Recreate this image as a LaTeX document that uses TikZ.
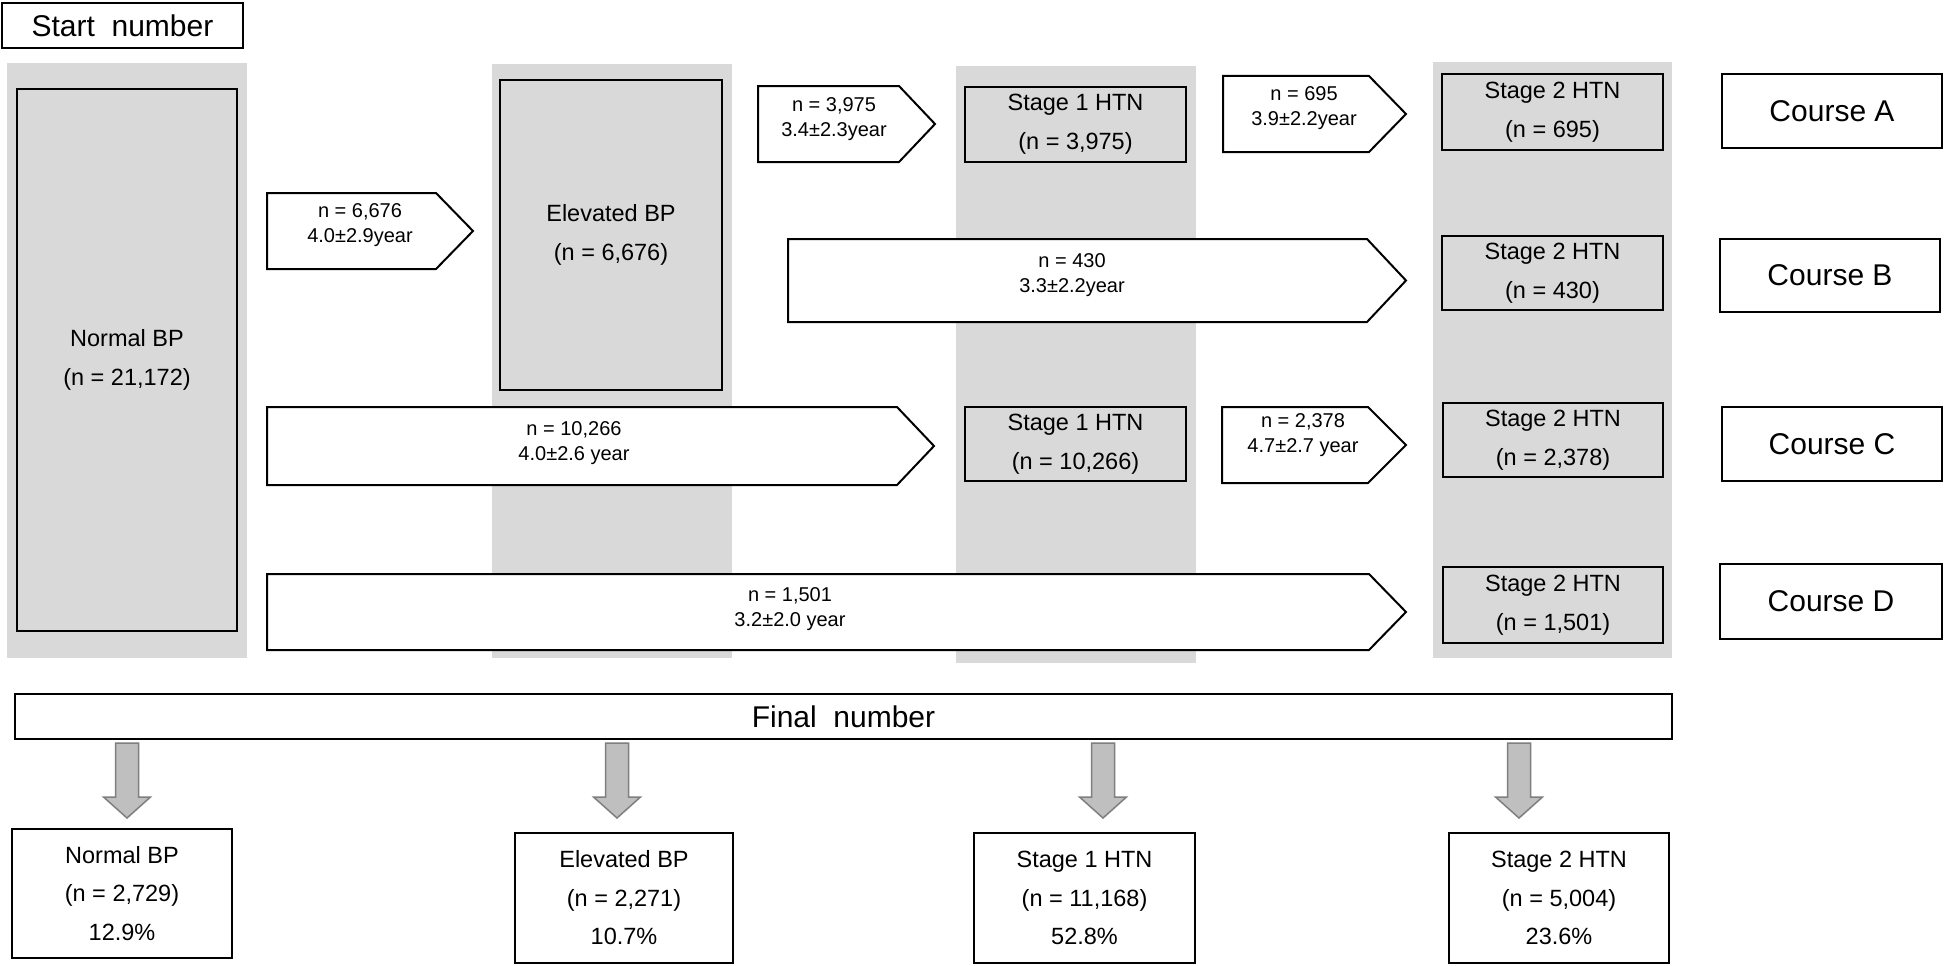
\documentclass[tikz,border=0pt]{standalone}
\usepackage{fontspec}
\setmainfont{Liberation Sans}
\definecolor{colgrey}{HTML}{D9D9D9}
\definecolor{arrowfill}{HTML}{BFBFBF}
\definecolor{arrowline}{HTML}{7F7F7F}
\newcommand\flowarrow[9]{%
  \draw[flow] (#2,#5) -- (#3,#5) -- (#4,{(#5+#6)/2}) -- (#3,#6) -- (#2,#6) -- cycle;
  \node[flowlabel] (#1) at (#7,#8) {#9};}
\newcommand\downarr[1]{%
  \draw[downarrow] ({#1-11.5},743) -- ({#1+11.5},743) -- ({#1+11.5},797) -- ({#1+23.5},797)
    -- (#1,818) -- ({#1-23.5},797) -- ({#1-11.5},797) -- cycle;}
\begin{document}
\begin{tikzpicture}[x=1pt,y=-1pt,
  band/.style={fill=colgrey, draw=none},
  statebox/.style={draw=black, line width=2pt, fill=colgrey, align=center,
    font=\fontsize{23.5}{39}\selectfont, inner sep=0pt},
  plainbox/.style={draw=black, line width=2pt, fill=white, align=center,
    font=\fontsize{23.5}{38.5}\selectfont, inner sep=0pt},
  coursebox/.style={draw=black, line width=2pt, fill=white,
    font=\fontsize{30}{36}\selectfont, inner sep=0pt},
  flow/.style={draw=black, line width=2pt, fill=white, line join=miter},
  flowlabel/.style={align=center, font=\fontsize{20}{25}\selectfont, inner sep=0pt},
  downarrow/.style={fill=arrowfill, draw=arrowline, line width=1.5pt, line join=miter}
]
\useasboundingbox (0,0) rectangle (1946,966);
\fill[white] (0,0) rectangle (1946,966);

% grey bands
\fill[band] (7,63) rectangle (247,658);
\fill[band] (492,64) rectangle (732,658);
\fill[band] (956,66) rectangle (1196,663);
\fill[band] (1433,62) rectangle (1672,658);

% start
\node[coursebox, minimum width=241pt, minimum height=45pt] (start) at (122.5,25.5) {Start\ \ number};

% state boxes
\node[statebox, minimum width=220pt, minimum height=542pt] (normal) at (127,360) {Normal BP\\(n = 21,172)};
\node[statebox, minimum width=222pt, minimum height=310pt] (elev) at (611,235) {Elevated BP\\(n = 6,676)};
\node[statebox, minimum width=221pt, minimum height=75pt] (s1a) at (1075.5,124.5) {Stage 1 HTN\\(n = 3,975)};
\node[statebox, minimum width=221pt, minimum height=76pt] (s2a) at (1552.5,112) {Stage 2 HTN\\(n = 695)};
\node[statebox, minimum width=221pt, minimum height=74pt] (s2b) at (1552.5,273) {Stage 2 HTN\\(n = 430)};
\node[statebox, minimum width=221pt, minimum height=74pt] (s1c) at (1075.5,444) {Stage 1 HTN\\(n = 10,266)};
\node[statebox, minimum width=220pt, minimum height=74pt] (s2c) at (1553,440) {Stage 2 HTN\\(n = 2,378)};
\node[statebox, minimum width=220pt, minimum height=76pt] (s2d) at (1553,605) {Stage 2 HTN\\(n = 1,501)};

% course boxes
\node[coursebox, minimum width=220pt, minimum height=74pt] (ca) at (1832,111) {Course A};
\node[coursebox, minimum width=220pt, minimum height=73pt] (cb) at (1830,275.5) {Course B};
\node[coursebox, minimum width=220pt, minimum height=74pt] (cc) at (1832,444) {Course C};
\node[coursebox, minimum width=222pt, minimum height=75pt] (cd) at (1831,601.5) {Course D};

% flow arrows
\flowarrow{f1}{267}{436}{473}{193}{269}{360}{225}{n = 6,676\\4.0±2.9year}
\flowarrow{f2}{758}{899}{935}{86}{162}{834}{119}{n = 3,975\\3.4±2.3year}
\flowarrow{f3}{1223}{1369}{1406}{76}{152}{1304}{108}{n = 695\\3.9±2.2year}
\flowarrow{fb}{788}{1367}{1406}{239}{322}{1072}{275}{n = 430\\3.3±2.2year}
\flowarrow{fc}{267}{897}{934}{407}{485}{574}{443}{n = 10,266\\4.0±2.6 year}
\flowarrow{f4}{1222}{1368}{1406}{407}{483}{1303}{435}{n = 2,378\\4.7±2.7 year}
\flowarrow{fd}{267}{1369}{1406}{574}{650}{790}{609}{n = 1,501\\3.2±2.0 year}

% final number
\node[coursebox, minimum width=1657pt, minimum height=45pt] (final) at (843.5,716.5) {Final\ \ number};

% down arrows
\downarr{127}
\downarr{617}
\downarr{1103}
\downarr{1519}

% bottom boxes
\node[plainbox, minimum width=220pt, minimum height=129pt] (b1) at (122,893.5) {Normal BP\\(n = 2,729)\\12.9\%};
\node[plainbox, minimum width=218pt, minimum height=130pt] (b2) at (624,898) {Elevated BP\\(n = 2,271)\\10.7\%};
\node[plainbox, minimum width=221pt, minimum height=130pt] (b3) at (1084.5,898) {Stage 1 HTN\\(n = 11,168)\\52.8\%};
\node[plainbox, minimum width=220pt, minimum height=130pt] (b4) at (1559,898) {Stage 2 HTN\\(n = 5,004)\\23.6\%};
\end{tikzpicture}
\end{document}
